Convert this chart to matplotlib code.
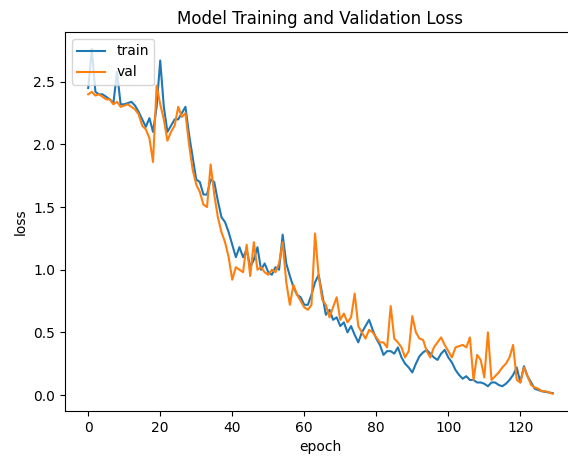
import numpy as np
import matplotlib
matplotlib.use('Agg')
import matplotlib.pyplot as plt

# loss per epoch
train_loss = [2.45, 2.76, 2.42, 2.40, 2.40, 2.38, 2.36, 2.33, 2.58, 2.32,
              2.32, 2.33, 2.34, 2.31, 2.26, 2.20, 2.14, 2.21, 2.10, 2.30,
              2.67, 2.30, 2.10, 2.15, 2.20, 2.20, 2.25, 2.30, 2.08, 1.90,
              1.72, 1.70, 1.60, 1.60, 1.72, 1.70, 1.55, 1.42, 1.38, 1.30,
              1.20, 1.10, 1.18, 1.10, 1.16, 1.02, 1.08, 1.18, 1.00, 1.05,
              0.98, 0.96, 1.02, 1.00, 1.28, 1.05, 0.95, 0.86, 0.80, 0.78,
              0.72, 0.72, 0.80, 0.90, 0.96, 0.80, 0.64, 0.68, 0.60, 0.62,
              0.55, 0.58, 0.50, 0.55, 0.48, 0.42, 0.50, 0.55, 0.60, 0.52,
              0.45, 0.40, 0.32, 0.35, 0.35, 0.33, 0.38, 0.30, 0.25, 0.22,
              0.18, 0.25, 0.31, 0.34, 0.36, 0.33, 0.30, 0.28, 0.33, 0.36,
              0.30, 0.26, 0.20, 0.16, 0.13, 0.15, 0.12, 0.12, 0.10, 0.10,
              0.09, 0.07, 0.10, 0.10, 0.08, 0.07, 0.09, 0.12, 0.16, 0.22,
              0.10, 0.23, 0.15, 0.10, 0.05, 0.04, 0.03, 0.025, 0.02, 0.015]

val_loss = [2.40, 2.42, 2.39, 2.40, 2.38, 2.36, 2.36, 2.32, 2.34, 2.30,
            2.31, 2.32, 2.30, 2.28, 2.24, 2.15, 2.12, 2.05, 1.86, 2.47,
            2.32, 2.20, 2.03, 2.10, 2.15, 2.30, 2.22, 2.25, 2.00, 1.80,
            1.68, 1.62, 1.52, 1.50, 1.84, 1.60, 1.42, 1.30, 1.22, 1.10,
            0.92, 1.02, 1.00, 0.98, 1.20, 0.95, 1.22, 1.00, 1.02, 0.98,
            0.96, 1.00, 0.98, 1.05, 1.22, 0.90, 0.72, 0.88, 0.80, 0.75,
            0.70, 0.68, 0.72, 1.29, 0.95, 0.76, 0.72, 0.62, 0.70, 0.78,
            0.60, 0.65, 0.58, 0.62, 0.81, 0.55, 0.50, 0.45, 0.52, 0.50,
            0.46, 0.42, 0.42, 0.38, 0.71, 0.45, 0.42, 0.38, 0.30, 0.35,
            0.63, 0.50, 0.45, 0.44, 0.35, 0.30, 0.38, 0.42, 0.46, 0.40,
            0.35, 0.30, 0.38, 0.39, 0.40, 0.38, 0.46, 0.12, 0.32, 0.28,
            0.14, 0.50, 0.12, 0.15, 0.18, 0.22, 0.25, 0.30, 0.40, 0.12,
            0.10, 0.22, 0.15, 0.08, 0.06, 0.05, 0.03, 0.03, 0.02, 0.01]

fig = plt.figure(figsize=(5.68, 4.57), dpi=100)
# the reference is a cropped screenshot: the right part of the axes runs off the image
ax = fig.add_axes([0.1144, 0.1007, 0.8996, 0.8293])

ax.plot(train_loss, label='train')
ax.plot(val_loss, label='val')

ax.set_title('Model Training and Validation Loss')
ax.set_xlabel('epoch')
ax.set_ylabel('loss')
ax.legend(loc='upper left')

fig.savefig('out.png', dpi=100)
